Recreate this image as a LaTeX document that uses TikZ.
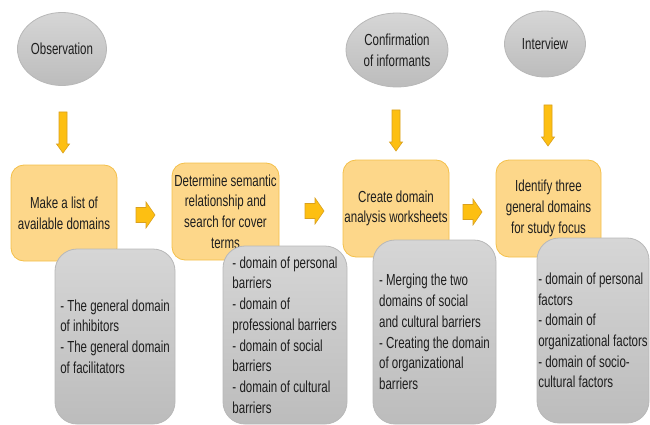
\documentclass[tikz,border=0pt]{standalone}
\usepackage{fontspec}
\setmainfont{Liberation Sans}[FakeStretch=0.72]
\usetikzlibrary{shapes.geometric}
\definecolor{orfill}{HTML}{FDD78A}
\definecolor{ordraw}{HTML}{F4C04A}
\definecolor{arfill}{HTML}{FDBF12}
\definecolor{ardraw}{HTML}{D9A01E}
\definecolor{grtop}{HTML}{D6D6D6}
\definecolor{grbot}{HTML}{BCBCBC}
\definecolor{grdraw}{HTML}{B8B8B8}
\definecolor{txt}{HTML}{1E1E1E}
\tikzset{
  txtfont/.style={font=\fontsize{16}{20.7}\selectfont, text=txt},
  obox/.style={txtfont, draw=ordraw, line width=0.8pt, fill=orfill, rounded corners=13pt, align=center, inner sep=0pt},
  gbox/.style={txtfont, draw=grdraw, line width=0.8pt, top color=grtop, bottom color=grbot, rounded corners=22pt, align=left, inner sep=0pt},
  oval/.style={txtfont, ellipse, draw=grdraw, line width=0.8pt, top color=grtop, bottom color=grbot, align=center, inner sep=0pt},
  arrshape/.style={fill=arfill, draw=ardraw, line width=0.6pt, line join=miter},
  rarr/.pic={\draw[arrshape] (0,-7.5) -- (10,-7.5) -- (10,-13) -- (19,0) -- (10,13) -- (10,7.5) -- (0,7.5) -- cycle;},
  darr/.pic={\draw[arrshape] (-4,0) -- (4,0) -- (4,32) -- (6.5,32) -- (0,41) -- (-6.5,32) -- (-4,32) -- cycle;}
}
\begin{document}
\begin{tikzpicture}[x=1pt, y=-1pt]
\useasboundingbox (0,0) rectangle (650,425);
% ellipses
\node[oval, minimum width=89pt, minimum height=73pt] (obs) at (62,49) {Observation};
\node[oval, minimum width=102pt, minimum height=74pt] (conf) at (397,50) {Confirmation\\of informants};
\node[oval, minimum width=81pt, minimum height=66pt] (intv) at (545,44) {Interview};
% down arrows
\pic at (63,112) {darr};
\pic at (396,110) {darr};
\pic at (548,105) {darr};
% orange boxes
\node[obox, minimum width=106pt, minimum height=96pt] (b1) at (64,213) {Make a list of\\available domains};
\node[obox, minimum width=107pt, minimum height=97pt] (b2) at (225.5,211.5) {Determine semantic\\relationship and\\search for cover\\terms};
\node[obox, minimum width=106pt, minimum height=97pt] (b3) at (396,208.5) {Create domain\\analysis worksheets};
\node[obox, minimum width=105pt, minimum height=97pt] (b4) at (548.5,208.5) {Identify three\\general domains\\for study focus};
% right arrows
\pic at (136,215) {rarr};
\pic at (305,211) {rarr};
\pic at (463,212) {rarr};
% gray boxes
\node[gbox, minimum width=120pt, minimum height=175pt] (g1) at (115,336.5) {- The general domain\\of inhibitors\\- The general domain\\of facilitators};
\node[gbox, minimum width=124pt, minimum height=178pt] (g2) at (285,335) {- domain of personal\\barriers\\- domain of\\professional barriers\\- domain of social\\barriers\\- domain of cultural\\barriers};
\node[gbox, minimum width=123pt, minimum height=184pt] (g3) at (434.5,332) {- Merging the two\\domains of social\\and cultural barriers\\- Creating the domain\\of organizational\\barriers};
\node[gbox, minimum width=112pt, minimum height=185pt] (g4) at (593,330.5) {- domain of personal\\factors\\- domain of\\organizational factors\\- domain of socio-\\cultural factors};
\end{tikzpicture}
\end{document}
